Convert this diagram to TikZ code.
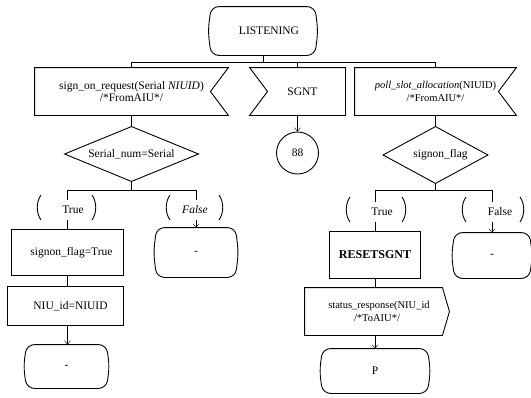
\documentclass[tikz,border=0pt]{standalone}
\usepackage{fontspec}
\setmainfont{Liberation Serif}
\usetikzlibrary{arrows.meta,backgrounds}

% Outline of an SDL state symbol: rounded corners and slightly convex sides
\newcommand\stateoutline[1]{%
  \draw[rounded corners=8pt] (#1.north west) -- (#1.north east)
    -- ([xshift=3pt]#1.east) -- (#1.south east) -- (#1.south west)
    -- ([xshift=-3pt]#1.west) -- cycle;}

% Parentheses round a decision answer; #2 and #3 are the offsets of the
% left and right bracket from the answer's centre
\newcommand\answerparens[3]{%
  \draw ([xshift=#2+3pt,yshift=15pt]#1.center)
    .. controls ([xshift=#2-2pt,yshift=8pt]#1.center) and ([xshift=#2-2pt,yshift=-3pt]#1.center)
    .. ([xshift=#2+3pt,yshift=-10pt]#1.center);
  \draw ([xshift=#3-3pt,yshift=15pt]#1.center)
    .. controls ([xshift=#3+2pt,yshift=8pt]#1.center) and ([xshift=#3+2pt,yshift=-3pt]#1.center)
    .. ([xshift=#3-3pt,yshift=-10pt]#1.center);}

\begin{document}
\begin{tikzpicture}[x=1pt,y=-1pt,line width=0.9pt,
  font=\fontsize{11.5}{12.5}\selectfont,
  box/.style={rectangle,inner sep=0pt,align=center},
  narrow/.style={font=\fontsize{10.5}{12.5}\selectfont},
  answer/.style={rectangle,inner sep=0pt,minimum height=20pt,minimum width=28pt,fill=white},
  arr/.style={-{Straight Barb[length=3.5pt,width=6pt]}}]
\useasboundingbox (0,0) rectangle (531,397);

% ---------- nodes ----------
\node[box,minimum width=103pt,minimum height=48pt] (listen) at (263,31) {\hspace{12pt}LISTENING};

\node[box,minimum width=193pt,minimum height=47pt] (sigon) at (131.5,91.5)
  {sign\_on\_request(Serial \textit{NIUID})\\/*FromAIU*/};
\node[box,minimum width=95pt,minimum height=47pt] (sgnt) at (297.5,91.5) {\hspace{10pt}SGNT};
\node[box,narrow,minimum width=161pt,minimum height=47pt] (poll) at (435.5,91.5)
  {\textit{poll\_slot\_allocation}(NIUID)\\/*FromAIU*/};

\node[circle,draw,minimum size=42pt,inner sep=0pt] (c88) at (297.5,153) {88};

\node[box,minimum width=133pt,minimum height=54pt] (d1) at (131.5,154) {\raisebox{-3pt}{Serial\_num=Serial}};
\node[box,minimum width=104pt,minimum height=56pt] (d2) at (435.5,155) {\raisebox{-3pt}{\hspace{10pt}signon\_flag}};

% decision answers, filled white so the branch lines stop at them
\node[answer] (t1) at (73,210) {True};
\node[answer] (f1) at (195,210) {\textit{False}};
\node[answer] (t2) at (382,212) {True};
\node[answer] (f2) at (500,212) {False};

\node[box,minimum width=111pt,minimum height=45pt] (sf) at (67.5,252.5) {\hspace{8pt}signon\_flag=True};
\node[box,minimum width=115pt,minimum height=38pt] (ni) at (65.5,306) {\hspace{10pt}NIU\_id=NIUID};
\node[box,minimum width=79pt,minimum height=43pt] (s1) at (66.5,366.5) {-};
\node[box,minimum width=78pt,minimum height=49pt] (s2) at (196,252.5) {-};

\node[box,minimum width=90pt,minimum height=46pt] (rs) at (375,255) {\fontsize{12}{13}\selectfont\textbf{RESETSGNT}};
\node[box,minimum width=74pt,minimum height=45pt] (s3) at (492,255.5) {-};
\node[box,narrow,minimum width=144pt,minimum height=47pt] (sr) at (377,311.5)
  {\hspace{4pt}status\_response(NIU\_id\\/*ToAIU*/};
\node[box,minimum width=104pt,minimum height=44pt] (P) at (375,371) {P};

% ---------- symbol outlines ----------
\stateoutline{listen}
\stateoutline{s1}
\stateoutline{s2}
\stateoutline{s3}
\stateoutline{P}

% input signals: notch on the right
\draw (sigon.north west) -- (sigon.north east) -- ([xshift=-18pt]sigon.east)
  -- (sigon.south east) -- (sigon.south west) -- cycle;
\draw (poll.north west) -- (poll.north east) -- ([xshift=-18pt]poll.east)
  -- (poll.south east) -- (poll.south west) -- cycle;
% timer input: notch on the left
\draw (sgnt.north west) -- (sgnt.north east) -- (sgnt.south east)
  -- (sgnt.south west) -- ([xshift=18pt]sgnt.west) -- cycle;
% output signal: pointed on the right
\draw (sr.north west) -- ([xshift=-7pt]sr.north east) -- (sr.east)
  -- ([xshift=-7pt]sr.south east) -- (sr.south west) -- cycle;

% decisions
\draw (d1.north) -- (d1.east) -- (d1.south) -- (d1.west) -- cycle;
\draw (d2.north) -- (d2.east) -- (d2.south) -- (d2.west) -- cycle;

% tasks
\draw (sf.north west) rectangle (sf.south east);
\draw (ni.north west) rectangle (ni.south east);
\draw (rs.north west) rectangle (rs.south east);

% ---------- connectors ----------
\begin{scope}[on background layer]
\draw (listen.south) -- ++(0,7) coordinate (bus);
\draw (sigon.north) -- (sigon.north |- bus) -- (poll.north |- bus) -- (poll.north);
\draw (sgnt.north) -- (sgnt.north |- bus);
\draw[arr] (sgnt.south) -- (c88.north);

\draw (sigon.south) -- (d1.north);
\draw (poll.south) -- (d2.north);

% left decision branches
\draw (d1.south) -- ++(0,9) coordinate (br1);
\draw (sf.north |- t1.north) |- (s2.north |- br1) -- (s2.north |- f1.north);
\draw (sf.north |- t1.south) -- (sf.north);
\draw[arr] (s2.north |- f1.south) -- (s2.north);
\draw (sf.south) -- (sf.south |- ni.north);
\draw[arr] (sf.south |- ni.south) -- (sf.south |- s1.north);

% right decision branches
\draw (d2.south) -- ++(0,7) coordinate (br2);
\draw (rs.north |- t2.north) |- (s3.north |- br2) -- (s3.north |- f2.north);
\draw (rs.north |- t2.south) -- (rs.north);
\draw[arr] (s3.north |- f2.south) -- (s3.north);
\draw (rs.south) -- (rs.south |- sr.north);
\draw[arr] (rs.south |- sr.south) -- (rs.south |- P.north);
\end{scope}

% brackets of the decision answers
\answerparens{t1}{-35pt}{22pt}
\answerparens{f1}{-28pt}{27pt}
\answerparens{t2}{-35pt}{23pt}
\answerparens{f2}{-37pt}{23pt}
\end{tikzpicture}
\end{document}
